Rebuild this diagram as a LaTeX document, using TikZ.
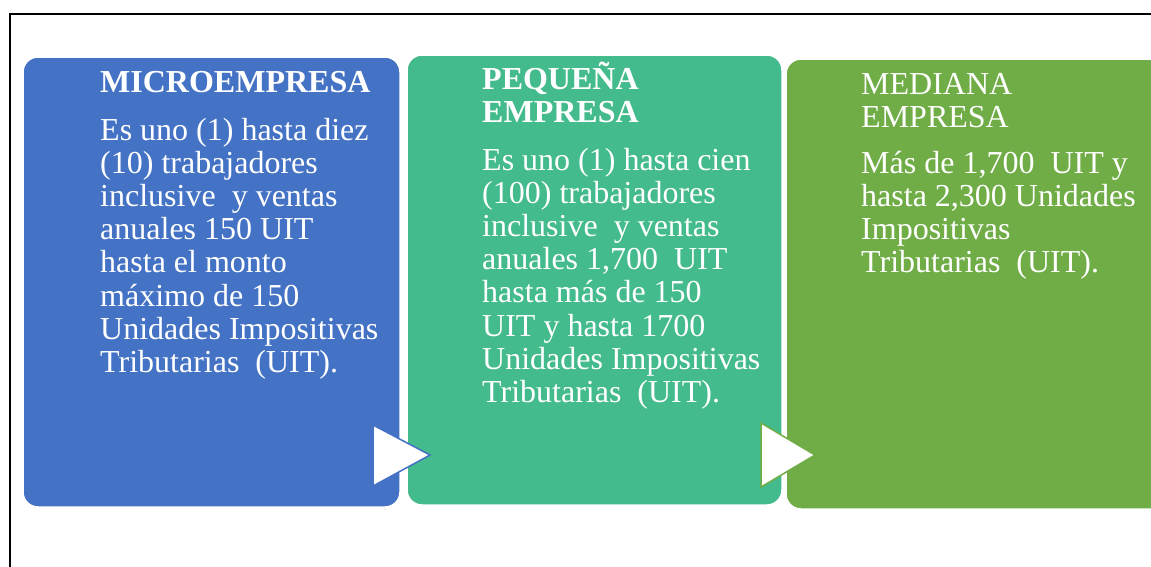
\documentclass[tikz,border=0pt]{standalone}
\usepackage{fontspec}
\setmainfont{Liberation Serif}
\definecolor{cblue}{HTML}{4472C4}
\definecolor{cteal}{HTML}{44BB8C}
\definecolor{cgreen}{HTML}{70AD47}
\tikzset{
  panel/.style={draw=white, line width=1.5pt, rounded corners=15pt},
  ptext/.style={anchor=base west, inner sep=0pt, align=left, text=white,
    font=\fontsize{32}{33.2}\selectfont},
  ptitle/.style={ptext, font=\fontsize{32}{33.2}\selectfont\bfseries},
  tri/.style={fill=white, line width=1.5pt, line join=miter}
}
\begin{document}
\begin{tikzpicture}[x=1pt,y=-1pt]
\useasboundingbox (0,0) rectangle (1151,566);
\fill[white] (0,0) rectangle (1151,566);
% frame
\draw[black, line width=1.3pt] (10,580) -- (10,14) -- (1170,14);
% panels
\draw[panel, fill=cblue] (23,57) rectangle (400,507);
\draw[panel, fill=cteal] (407,55) rectangle (782,505);
\draw[panel, fill=cgreen] (786,59) rectangle (1175,509);
% texts (anchored at the baseline of their last line)
\node[ptitle] (t1) at (100,92) {MICROEMPRESA};
\node[ptext] (b1) at (100,372.4) {Es uno (1) hasta diez\\(10) trabajadores\\inclusive \ y ventas\\anuales 150 UIT\\hasta el monto\\máximo de 150\\Unidades Impositivas\\Tributarias \ (UIT).};
\node[ptitle] (t2) at (482,122.2) {PEQUEÑA\\EMPRESA};
\node[ptext] (b2) at (482,402.4) {Es uno (1) hasta cien\\(100) trabajadores\\inclusive \ y ventas\\anuales 1,700 \ UIT\\hasta más de 150\\UIT y hasta 1700\\Unidades Impositivas\\Tributarias \ (UIT).};
\node[ptext] (t3) at (861,127.2) {MEDIANA\\EMPRESA};
\node[ptext] (b3) at (861,272.6) {Más de 1,700 \ UIT y\\hasta 2,300 Unidades\\Impositivas\\Tributarias \ (UIT).};
% arrows
\draw[tri, draw=cblue] (373,425) -- (430,455) -- (373,486) -- cycle;
\draw[tri, draw=cgreen] (761,423) -- (815,455) -- (761,487) -- cycle;
\end{tikzpicture}
\end{document}
